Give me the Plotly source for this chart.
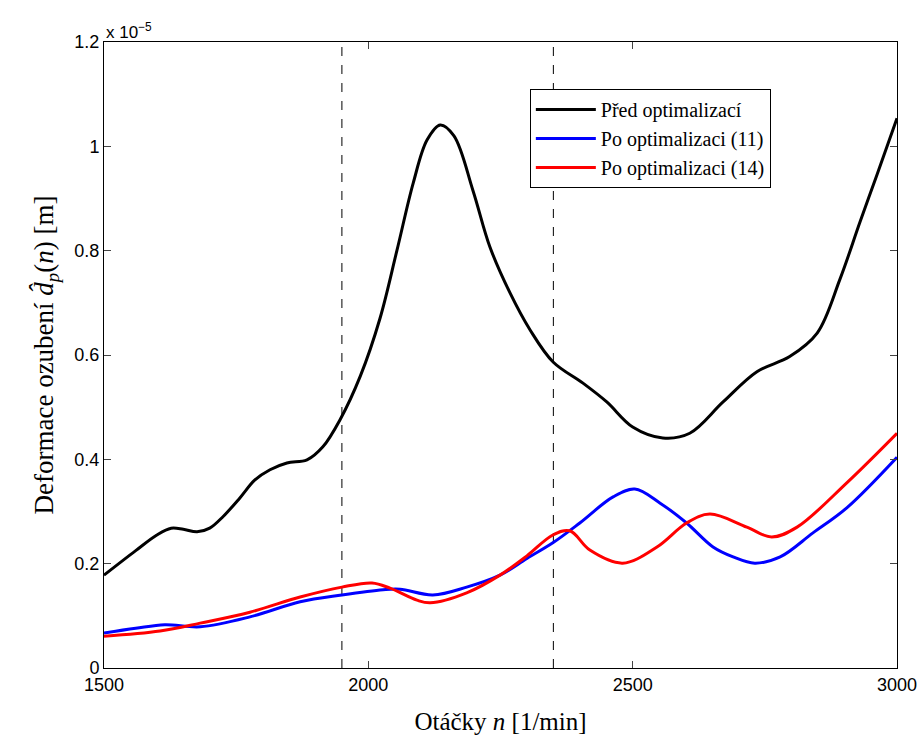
import plotly.graph_objects as go

# Data (values in units of 1e-5 m)
x_black = [1500, 1560, 1600, 1627, 1650, 1676, 1700, 1725, 1757, 1785, 1814, 1846, 1884, 1914, 1946,
           1985, 2022, 2054, 2085, 2111, 2136, 2162, 2198, 2230, 2268, 2306, 2350, 2406, 2451, 2500,
           2557, 2608, 2671, 2735, 2797, 2849, 2892, 2930, 2962, 3000]
y_black = [0.178, 0.225, 0.255, 0.268, 0.266, 0.261, 0.268, 0.29, 0.326, 0.36, 0.38, 0.393, 0.399, 0.424, 0.475,
           0.56, 0.67, 0.80, 0.93, 1.012, 1.041, 1.02, 0.915, 0.807, 0.719, 0.648, 0.586, 0.546, 0.51, 0.462,
           0.441, 0.45, 0.51, 0.568, 0.597, 0.642, 0.745, 0.855, 0.945, 1.054]

x_blue = [1500, 1560, 1615, 1682, 1776, 1871, 1950, 2028, 2060, 2122, 2186, 2249, 2300, 2349,
          2400, 2463, 2504, 2552, 2602, 2652, 2690, 2731, 2779, 2841, 2905, 3000]
y_blue = [0.067, 0.076, 0.083, 0.079, 0.098, 0.127, 0.14, 0.15, 0.151, 0.14, 0.155, 0.178, 0.21, 0.24,
          0.278, 0.328, 0.343, 0.316, 0.278, 0.232, 0.213, 0.201, 0.213, 0.259, 0.307, 0.404]

x_red = [1500, 1606, 1682, 1776, 1871, 1950, 2007, 2041, 2092, 2117, 2186, 2249, 2300, 2349,
         2381, 2419, 2481, 2546, 2602, 2646, 2716, 2763, 2811, 2905, 3000]
y_red = [0.061, 0.071, 0.086, 0.107, 0.136, 0.155, 0.163, 0.153, 0.13, 0.125, 0.144, 0.178, 0.215, 0.255,
         0.263, 0.226, 0.201, 0.232, 0.278, 0.295, 0.27, 0.251, 0.27, 0.355, 0.45]

vlines = [1950, 2350]
x_ticks = [1500, 2000, 2500, 3000]
y_ticks = [0, 0.2, 0.4, 0.6, 0.8, 1.0, 1.2]
y_tick_text = ["0", "0.2", "0.4", "0.6", "0.8", "1", "1.2"]

names = ["Před optimalizací", "Po optimalizaci (11)", "Po optimalizaci (14)"]
colors = ["#000000", "#0000ff", "#ff0000"]

fig = go.Figure()
for xs, ys, nm, c in [(x_black, y_black, names[0], colors[0]),
                      (x_blue, y_blue, names[1], colors[1]),
                      (x_red, y_red, names[2], colors[2])]:
    fig.add_trace(go.Scatter(x=xs, y=ys, mode="lines", name=nm,
                             line=dict(color=c, width=3, shape="spline", smoothing=1.0)))

for v in vlines:
    fig.add_shape(type="line", x0=v, x1=v, y0=0, y1=1.2, xref="x", yref="y",
                  line=dict(color="black", width=1, dash="dash"), layer="below")

fig.add_annotation(text="x 10<sup>−5</sup>", xref="paper", yref="paper", x=0.0, y=1.0,
                   xanchor="left", yanchor="bottom", showarrow=False, yshift=-2,
                   font=dict(family="Liberation Sans, Arial", size=17, color="black"))

fig.update_layout(
    width=924, height=742,
    margin=dict(l=104, r=27, t=42, b=74, autoexpand=False),
    paper_bgcolor="white", plot_bgcolor="white",
    showlegend=True,
    legend=dict(x=0.537, y=0.925, xanchor="left", yanchor="top",
                bgcolor="white", bordercolor="black", borderwidth=1,
                font=dict(family="Liberation Serif, Times New Roman", size=20, color="black"),
                tracegroupgap=0, itemwidth=60),
    xaxis=dict(range=[1500, 3000], tickvals=x_ticks, ticks="inside", ticklen=7,
               showline=True, linecolor="black", linewidth=1, mirror="ticks",
               showgrid=False, zeroline=False, automargin=False,
               tickfont=dict(family="Liberation Sans, Arial", size=18, color="black"),
               title=dict(text="Otáčky <i>n</i> [1/min]", standoff=18,
                          font=dict(family="Liberation Serif, Times New Roman", size=25, color="black"))),
    yaxis=dict(range=[0, 1.2], tickvals=y_ticks, ticktext=y_tick_text, ticks="inside", ticklen=7,
               showline=True, linecolor="black", linewidth=1, mirror="ticks",
               showgrid=False, zeroline=False, automargin=False,
               tickfont=dict(family="Liberation Sans, Arial", size=18, color="black"),
               title=dict(text="Deformace ozubení <i>d̂</i><sub><i>p</i></sub>(<i>n</i>) [m]", standoff=12,
                          font=dict(family="Liberation Serif, Times New Roman", size=27, color="black"))),
)

fig.write_html("out.html")
